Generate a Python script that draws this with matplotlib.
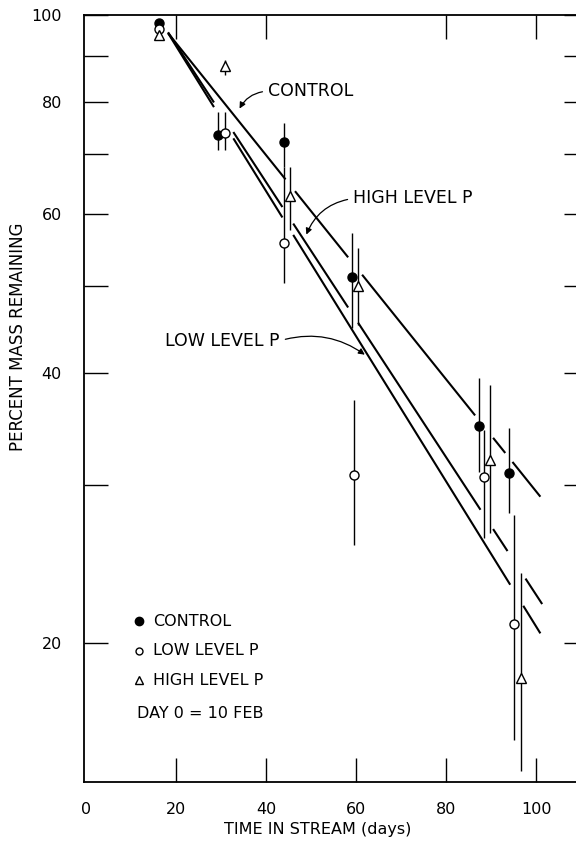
import numpy as np
import matplotlib
matplotlib.use("Agg")
import matplotlib.pyplot as plt
from matplotlib.ticker import FixedLocator, NullLocator

plt.rcParams['font.family'] = ['DejaVu Sans']

# Observed points (day, percent mass remaining) and vertical range bars
control_days = [16.2, 29.3, 44.0, 59.1, 87.3, 94.0]
control_mass = [98.0, 73.5, 72.2, 51.1, 34.9, 30.9]
control_lo = [None, 70.7, 67.7, 44.8, 31.0, 27.9]
control_hi = [None, 78.0, 75.8, 57.2, 39.4, 34.7]

low_days = [16.2, 30.9, 44.0, 59.6, 88.4, 95.1]
low_mass = [96.5, 73.9, 55.8, 30.8, 30.6, 21.0]
low_lo = [None, 70.7, 50.3, 25.7, 26.2, 15.6]
low_hi = [None, 78.0, 67.7, 37.3, 34.5, 27.8]

high_days = [16.2, 30.9, 45.3, 60.4, 89.6, 96.7]
high_mass = [95.0, 87.7, 62.9, 50.0, 32.0, 18.3]
high_lo = [None, 85.8, 57.6, 45.2, 26.5, 14.4]
high_hi = [None, 89.1, 67.7, 55.0, 38.7, 23.9]

# Fitted lines: (start day, start %, end day, end %)
control_fit = (18.2, 95.5, 100.9, 29.1)
high_fit = (18.2, 95.7, 101.3, 22.1)
low_fit = (18.2, 95.5, 100.9, 20.5)

# visible pieces of each drawn line (the drafter broke them around the points)
control_pieces = [(18.2, 44.3), (46.4, 58.2), (61.3, 86.4), (90.4, 93.1), (94.7, 100.9)]
high_pieces = [(18.2, 28.4), (32.7, 43.6), (46.0, 58.2), (60.4, 87.6), (90.4, 93.6), (97.6, 101.3)]
low_pieces = [(18.2, 28.4), (32.7, 43.6), (46.0, 94.2), (97.1, 100.9)]

x_ticks = [0, 20, 40, 60, 80, 100]
top_ticks = [20, 40, 80, 100]
y_ticks = [20, 30, 40, 50, 60, 70, 80, 90, 100]
y_labels = ['20', '', '40', '', '60', '', '80', '', '100']


def fit_value(fit, d):
    x0, y0, x1, y1 = fit
    t = (np.asarray(d) - x0) / (x1 - x0)
    return 10 ** (np.log10(y0) + t * (np.log10(y1) - np.log10(y0)))


fig = plt.figure(figsize=(5.76, 8.41), dpi=100)
ax = fig.add_axes([0.146, 0.070, 0.875, 0.912])
ax.set_yscale('log')
ax.set_xlim(-0.45, 111.5)
ax.set_ylim(14.0, 100)

# regression lines
for fit, pieces in [(control_fit, control_pieces), (high_fit, high_pieces), (low_fit, low_pieces)]:
    for a, b in pieces:
        xs = np.array([a, b])
        ax.plot(xs, fit_value(fit, xs), color='black', lw=1.5, solid_capstyle='butt', zorder=2)

# range bars
for days, lo, hi in [(control_days, control_lo, control_hi),
                     (low_days, low_lo, low_hi),
                     (high_days, high_lo, high_hi)]:
    for d, l, h in zip(days, lo, hi):
        if l is not None:
            ax.vlines(d, l, h, color='black', lw=1.0, zorder=3)

ax.plot(control_days, control_mass, 'o', ms=6.5, mfc='black', mec='black', zorder=5)
ax.plot(low_days, low_mass, 'o', ms=6.5, mfc='white', mec='black', mew=1.0, zorder=5)
ax.plot(high_days, high_mass, '^', ms=7, mfc='white', mec='black', mew=1.0, zorder=5)

# labels with arrows
arrow = dict(arrowstyle='-|>', color='black', lw=0.9, mutation_scale=9)
ax.annotate('CONTROL', xy=(33.8, 78.2), xytext=(40.4, 82.3), fontsize=12.5,
            ha='left', va='center',
            arrowprops=dict(arrow, relpos=(0, 0.5), connectionstyle='arc3,rad=0.3'))
ax.annotate('HIGH LEVEL P', xy=(48.7, 56.6), xytext=(59.3, 62.5), fontsize=12.5,
            ha='left', va='center',
            arrowprops=dict(arrow, relpos=(0, 0.5), connectionstyle='arc3,rad=0.3'))
ax.annotate('LOW LEVEL P', xy=(62.4, 41.7), xytext=(17.6, 43.4), fontsize=12.5,
            ha='left', va='center',
            arrowprops=dict(arrow, relpos=(1, 0.5), connectionstyle='arc3,rad=-0.25'))

# key in the lower left
key_x = 0.109
ax.plot([key_x], [0.21], 'o', ms=6, mfc='black', mec='black', transform=ax.transAxes, clip_on=False)
ax.plot([key_x], [0.171], 'o', ms=5, mfc='white', mec='black', transform=ax.transAxes, clip_on=False)
ax.plot([key_x], [0.133], '^', ms=6, mfc='white', mec='black', transform=ax.transAxes, clip_on=False)
ax.text(0.136, 0.21, 'CONTROL', transform=ax.transAxes, fontsize=11.5, va='center')
ax.text(0.136, 0.171, 'LOW LEVEL P', transform=ax.transAxes, fontsize=11.5, va='center')
ax.text(0.136, 0.133, 'HIGH LEVEL P', transform=ax.transAxes, fontsize=11.5, va='center')
ax.text(0.104, 0.09, 'DAY 0 = 10 FEB', transform=ax.transAxes, fontsize=11.5, va='center')

ax.xaxis.set_major_locator(FixedLocator(x_ticks))
ax.set_xticklabels([str(v) for v in x_ticks])
ax.yaxis.set_major_locator(FixedLocator(y_ticks))
ax.yaxis.set_minor_locator(NullLocator())
ax.set_yticklabels(y_labels)
ax.tick_params(direction='in', length=17, width=1.0, top=True, right=True, labelsize=11.5)
ax.tick_params(axis='x', pad=14)
ax.tick_params(axis='y', pad=16)

# no tick marks at day 0, and only some along the top
for v, t in zip(x_ticks, ax.xaxis.get_major_ticks()):
    if v == 0:
        t.tick1line.set_visible(False)
    if v not in top_ticks:
        t.tick2line.set_visible(False)
for s in ax.spines.values():
    s.set_linewidth(1.3)
ax.spines['right'].set_visible(False)  # falls off the page in the scan

fig.text(0.031, 0.60, 'PERCENT MASS REMAINING', rotation=90, fontsize=12, ha='center', va='center')
fig.text(0.552, 0.014, 'TIME IN STREAM (days)', fontsize=11.5, ha='center', va='center')

fig.savefig('out.png', dpi=100)
